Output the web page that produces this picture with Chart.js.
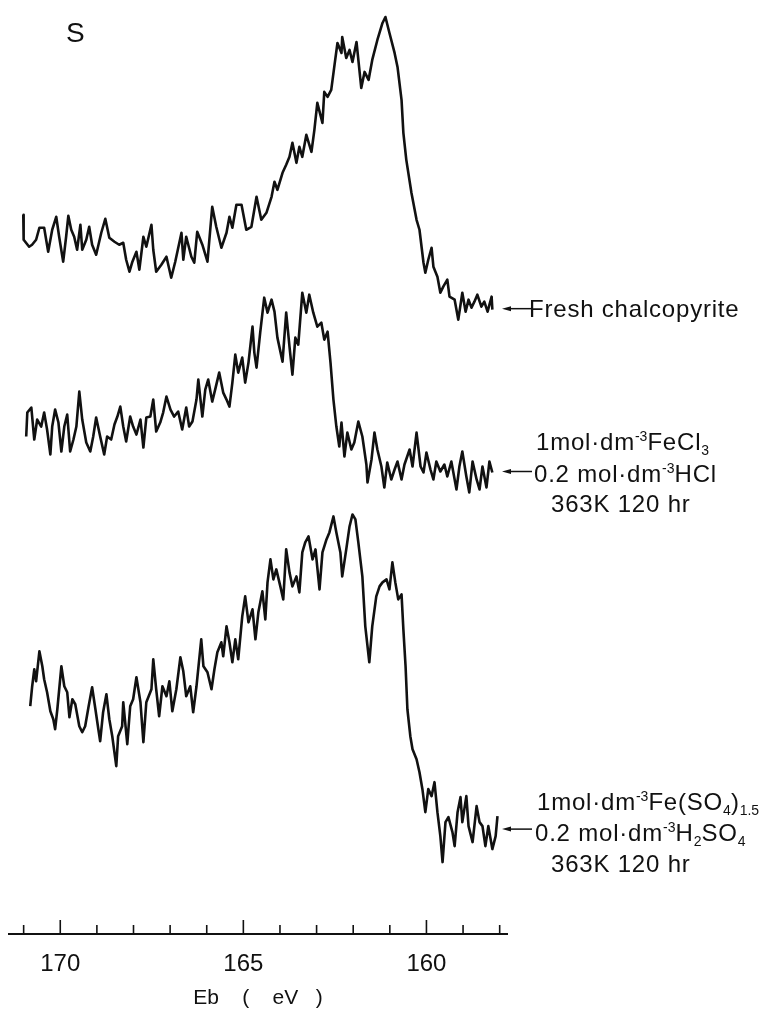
<!DOCTYPE html>
<html>
<head>
<meta charset="utf-8">
<title>S 2p spectra</title>
<script src="https://cdn.jsdelivr.net/npm/chart.js@4.4.0/dist/chart.umd.min.js"></script>
<style>
  body { margin: 0; background: #fff; }
  #wrap { position: relative; width: 765px; height: 1009px; }
  #chart { position: absolute; left: 0; top: 0; }
  .lbl {
    position: absolute;
    font-family: "Liberation Sans", Arial, sans-serif;
    font-size: 24px;
    line-height: 31px;
    letter-spacing: 0.8px;
    color: #111;
    white-space: nowrap;
  }
  .sup { font-size: 14px; position: relative; top: -9px; letter-spacing: 0; }
  .sub { font-size: 14px; position: relative; top: 5px; letter-spacing: 0; }
</style>
</head>
<body>
<div id="wrap">
  <canvas id="chart" width="765" height="1009"></canvas>

  <div class="lbl" style="left:66px; top:17px; font-size:28px;">S</div>

  <div class="lbl" style="left:529px; top:293px;">Fresh chalcopyrite</div>

  <div class="lbl" style="left:536px; top:426px;">1mol·dm<span class="sup">-3</span>FeCl<span class="sub">3</span></div>
  <div class="lbl" style="left:534px; top:458px;">0.2 mol·dm<span class="sup">-3</span>HCl</div>
  <div class="lbl" style="left:551px; top:488px;">363K 120 hr</div>

  <div class="lbl" style="left:537px; top:786px;">1mol·dm<span class="sup">-3</span>Fe(SO<span class="sub">4</span>)<span class="sub">1.5</span></div>
  <div class="lbl" style="left:535px; top:817px;">0.2 mol·dm<span class="sup">-3</span>H<span class="sub">2</span>SO<span class="sub">4</span></div>
  <div class="lbl" style="left:551px; top:848px;">363K 120 hr</div>
</div>

<script>
'use strict';

// Binding energy axis (eV), drawn high -> low
const axisMin = 157.8;
const axisMax = 171.4;
const labelTicks = [170, 165, 160];
const minorTicks = [171, 170, 169, 168, 167, 166, 165, 164, 163, 162, 161, 160, 159, 158];

// Intensity levels (a.u.) where the label arrows point
const arrowLevels = [626, 463, 105];

// Fresh chalcopyrite (top trace)
const freshEv = [171.01, 171.00, 170.85, 170.77, 170.66, 170.57, 170.44, 170.33, 170.22, 170.11,
  170.03, 169.92, 169.84, 169.78, 169.70, 169.62, 169.54, 169.45, 169.40, 169.29,
  169.21, 169.13, 169.02, 168.88, 168.77, 168.66, 168.52, 168.39, 168.28, 168.20,
  168.11, 168.03, 167.92, 167.84, 167.73, 167.65, 167.51, 167.46, 167.38, 167.24,
  167.10, 166.97, 166.86, 166.69, 166.64, 166.56, 166.42, 166.34, 166.26, 166.12,
  165.98, 165.85, 165.74, 165.60, 165.46, 165.38, 165.30, 165.19, 165.05, 164.92,
  164.78, 164.64, 164.51, 164.37, 164.23, 164.15, 164.07, 163.93, 163.83, 163.74,
  163.66, 163.55, 163.47, 163.39, 163.28, 163.14, 163.06, 162.98, 162.84, 162.79,
  162.70, 162.60, 162.51, 162.43, 162.32, 162.30, 162.19, 162.10, 162.02, 161.91,
  161.78, 161.69, 161.58, 161.48, 161.34, 161.20, 161.12, 161.01, 160.87, 160.79,
  160.68, 160.63, 160.55, 160.41, 160.27, 160.19, 160.08, 160.03, 159.95, 159.86,
  159.81, 159.70, 159.62, 159.54, 159.43, 159.37, 159.23, 159.13, 159.02, 158.93,
  158.85, 158.77, 158.69, 158.61, 158.50, 158.42, 158.33, 158.22, 158.20];
const freshInt = [720, 695, 688, 690, 695, 707, 707, 683, 705, 718,
  698, 673, 698, 719, 705, 698, 685, 710, 685, 695,
  708, 690, 680, 702, 716, 697, 693, 690, 692, 675,
  663, 673, 683, 665, 698, 688, 710, 685, 663, 670,
  678, 657, 673, 702, 675, 698, 678, 672, 703, 690,
  673, 728, 708, 687, 702, 718, 707, 730, 730, 705,
  708, 738, 715, 722, 738, 753, 745, 762, 770, 778,
  792, 772, 788, 778, 800, 783, 805, 832, 812, 843,
  838, 845, 870, 892, 882, 898, 877, 885, 873, 893,
  847, 863, 855, 875, 895, 912, 918, 902, 882, 868,
  835, 802, 775, 742, 715, 705, 672, 662, 675, 687,
  668, 658, 642, 648, 655, 638, 635, 615, 642, 623,
  635, 627, 633, 640, 628, 633, 623, 638, 625];

// 1 mol dm-3 FeCl3 / 0.2 mol dm-3 HCl (middle trace)
const chlorideEv = [170.93, 170.90, 170.79, 170.71, 170.63, 170.52, 170.44, 170.36, 170.27, 170.22,
  170.14, 170.05, 169.97, 169.89, 169.81, 169.73, 169.64, 169.56, 169.48, 169.40,
  169.29, 169.18, 169.10, 169.02, 168.91, 168.80, 168.72, 168.61, 168.52, 168.44,
  168.36, 168.28, 168.20, 168.09, 168.01, 167.92, 167.81, 167.73, 167.65, 167.54,
  167.46, 167.38, 167.27, 167.19, 167.10, 166.99, 166.89, 166.78, 166.67, 166.56,
  166.48, 166.39, 166.28, 166.23, 166.12, 166.04, 165.96, 165.85, 165.77, 165.66,
  165.55, 165.46, 165.38, 165.30, 165.22, 165.14, 165.03, 164.95, 164.86, 164.75,
  164.70, 164.64, 164.54, 164.43, 164.34, 164.23, 164.15, 164.07, 163.93, 163.83,
  163.74, 163.66, 163.58, 163.50, 163.39, 163.28, 163.20, 163.09, 162.98, 162.87,
  162.79, 162.70, 162.62, 162.54, 162.46, 162.38, 162.32, 162.24, 162.16, 162.05,
  161.97, 161.86, 161.75, 161.64, 161.61, 161.50, 161.42, 161.34, 161.23, 161.15,
  161.07, 160.96, 160.87, 160.79, 160.68, 160.60, 160.46, 160.38, 160.27, 160.16,
  160.08, 160.00, 159.89, 159.81, 159.73, 159.62, 159.51, 159.43, 159.32, 159.18,
  159.10, 159.02, 158.91, 158.83, 158.74, 158.63, 158.55, 158.47, 158.36, 158.28,
  158.20];
const chlorideInt = [498, 522, 527, 495, 515, 508, 522, 505, 480, 508,
  525, 512, 483, 508, 520, 483, 495, 508, 543, 515,
  492, 483, 498, 517, 498, 480, 498, 495, 510, 518,
  528, 508, 493, 518, 508, 500, 515, 487, 517, 518,
  535, 503, 512, 522, 538, 525, 518, 523, 505, 527,
  508, 513, 535, 555, 518, 545, 555, 533, 545, 562,
  542, 535, 528, 552, 580, 562, 577, 552, 572, 608,
  582, 567, 602, 637, 622, 635, 623, 597, 573, 622,
  588, 560, 597, 590, 642, 622, 640, 622, 608, 612,
  595, 603, 572, 535, 508, 488, 512, 478, 502, 485,
  492, 513, 498, 470, 452, 475, 502, 485, 468, 447,
  472, 455, 465, 473, 455, 470, 485, 468, 502, 468,
  462, 482, 465, 455, 473, 463, 470, 458, 473, 445,
  468, 483, 458, 442, 473, 455, 445, 468, 447, 473,
  462];

// 1 mol dm-3 Fe(SO4)1.5 / 0.2 mol dm-3 H2SO4 (bottom trace)
const sulfateEv = [170.82, 170.77, 170.71, 170.66, 170.57, 170.49, 170.44, 170.36, 170.27, 170.19,
  170.14, 170.08, 169.97, 169.89, 169.81, 169.75, 169.67, 169.59, 169.48, 169.40,
  169.32, 169.23, 169.13, 169.04, 168.96, 168.91, 168.83, 168.74, 168.66, 168.58,
  168.47, 168.42, 168.31, 168.28, 168.17, 168.09, 168.01, 167.92, 167.81, 167.73,
  167.65, 167.51, 167.46, 167.38, 167.30, 167.21, 167.10, 167.02, 166.94, 166.83,
  166.72, 166.64, 166.56, 166.45, 166.37, 166.28, 166.15, 166.09, 165.98, 165.87,
  165.79, 165.71, 165.60, 165.55, 165.46, 165.38, 165.30, 165.22, 165.14, 165.03,
  164.95, 164.86, 164.75, 164.67, 164.59, 164.48, 164.40, 164.34, 164.26, 164.18,
  164.10, 163.99, 163.91, 163.83, 163.74, 163.66, 163.55, 163.47, 163.39, 163.31,
  163.22, 163.11, 163.03, 162.92, 162.84, 162.73, 162.65, 162.54, 162.46, 162.35,
  162.30, 162.19, 162.10, 162.02, 161.94, 161.86, 161.75, 161.67, 161.56, 161.48,
  161.37, 161.28, 161.20, 161.09, 161.01, 160.93, 160.85, 160.77, 160.68, 160.63,
  160.57, 160.52, 160.44, 160.38, 160.27, 160.19, 160.11, 160.03, 159.95, 159.86,
  159.78, 159.70, 159.62, 159.56, 159.48, 159.40, 159.29, 159.23, 159.15, 159.07,
  159.02, 158.91, 158.85, 158.74, 158.63, 158.55, 158.47, 158.39, 158.31, 158.20,
  158.11, 158.06];
const sulfateInt = [228, 247, 265, 253, 283, 268, 255, 242, 223, 215,
  205, 225, 268, 248, 242, 217, 235, 230, 208, 202,
  208, 227, 247, 225, 205, 193, 222, 240, 215, 198,
  168, 198, 208, 232, 190, 228, 235, 257, 232, 192,
  232, 245, 275, 245, 218, 248, 238, 253, 223, 245,
  277, 263, 238, 248, 222, 248, 295, 268, 262, 245,
  265, 282, 292, 278, 308, 292, 272, 295, 275, 318,
  338, 312, 325, 295, 322, 343, 315, 352, 375, 355,
  365, 348, 335, 385, 362, 348, 358, 342, 382, 392,
  398, 375, 385, 345, 382, 395, 402, 418, 402, 382,
  358, 385, 408, 420, 415, 392, 358, 308, 272, 308,
  338, 348, 352, 355, 345, 372, 352, 335, 340, 305,
  268, 225, 198, 185, 175, 162, 145, 122, 145, 138,
  152, 122, 98, 72, 112, 117, 102, 88, 122, 137,
  112, 138, 108, 92, 128, 112, 108, 88, 108, 85,
  98, 118];

const INK = '#111';
const FONT = '"Liberation Sans", Arial, sans-serif';

// Pair the energy and intensity arrays into {x, y} points
function toPoints(ev, counts) {
    return ev.map((e, i) => ({ x: e, y: counts[i] }));
}

function traceDataset(label, ev, counts) {
    return {
        label: label,
        data: toPoints(ev, counts),
        borderColor: INK,
        borderWidth: 2.6,
        borderJoinStyle: 'round',
        pointRadius: 0,
        tension: 0,
        fill: false
    };
}

// Inward tick marks on the energy axis and the label arrows
const axisDecor = {
    id: 'axisDecor',
    afterDraw(chart) {
        const { ctx, chartArea, scales } = chart;
        ctx.save();
        ctx.strokeStyle = INK;
        ctx.fillStyle = INK;

        ctx.lineWidth = 1.6;
        minorTicks.forEach(v => {
            const x = scales.x.getPixelForValue(v);
            const len = labelTicks.includes(v) ? 14 : 9;
            ctx.beginPath();
            ctx.moveTo(x, chartArea.bottom);
            ctx.lineTo(x, chartArea.bottom - len);
            ctx.stroke();
        });

        ctx.lineWidth = 1.5;
        arrowLevels.forEach(level => {
            const y = scales.y.getPixelForValue(level);
            const tip = chartArea.right - 5;
            ctx.beginPath();
            ctx.moveTo(tip + 6, y);
            ctx.lineTo(tip + 30, y);
            ctx.stroke();
            ctx.beginPath();
            ctx.moveTo(tip, y);
            ctx.lineTo(tip + 9, y - 2.5);
            ctx.lineTo(tip + 9, y + 2.5);
            ctx.closePath();
            ctx.fill();
        });
        ctx.restore();
    }
};

function createChart() {
    const ctx = document.getElementById('chart').getContext('2d');

    new Chart(ctx, {
        type: 'line',
        data: {
            datasets: [
                traceDataset('Fresh chalcopyrite', freshEv, freshInt),
                traceDataset('FeCl3 / HCl, 363 K 120 hr', chlorideEv, chlorideInt),
                traceDataset('Fe(SO4)1.5 / H2SO4, 363 K 120 hr', sulfateEv, sulfateInt)
            ]
        },
        options: {
            responsive: false,
            animation: false,
            devicePixelRatio: 1,
            layout: { padding: { left: 9, right: 258, top: 0, bottom: 0 } },
            plugins: {
                legend: { display: false },
                tooltip: { enabled: false }
            },
            scales: {
                x: {
                    type: 'linear',
                    reverse: true,
                    min: axisMin,
                    max: axisMax,
                    afterBuildTicks: axis => {
                        axis.ticks = labelTicks.map(v => ({ value: v }));
                    },
                    grid: { display: false, drawTicks: false },
                    border: { display: true, color: INK, width: 2 },
                    ticks: {
                        color: INK,
                        padding: 16,
                        maxRotation: 0,
                        autoSkip: false,
                        font: { family: FONT, size: 24 }
                    },
                    title: {
                        display: true,
                        text: 'Eb    (    eV   )',
                        color: INK,
                        font: { family: FONT, size: 21 },
                        padding: { top: -9, bottom: -2 }
                    }
                },
                y: {
                    display: false,
                    min: 0,
                    max: 935
                }
            }
        },
        plugins: [axisDecor]
    });
}

window.onload = createChart;
</script>
</body>
</html>
